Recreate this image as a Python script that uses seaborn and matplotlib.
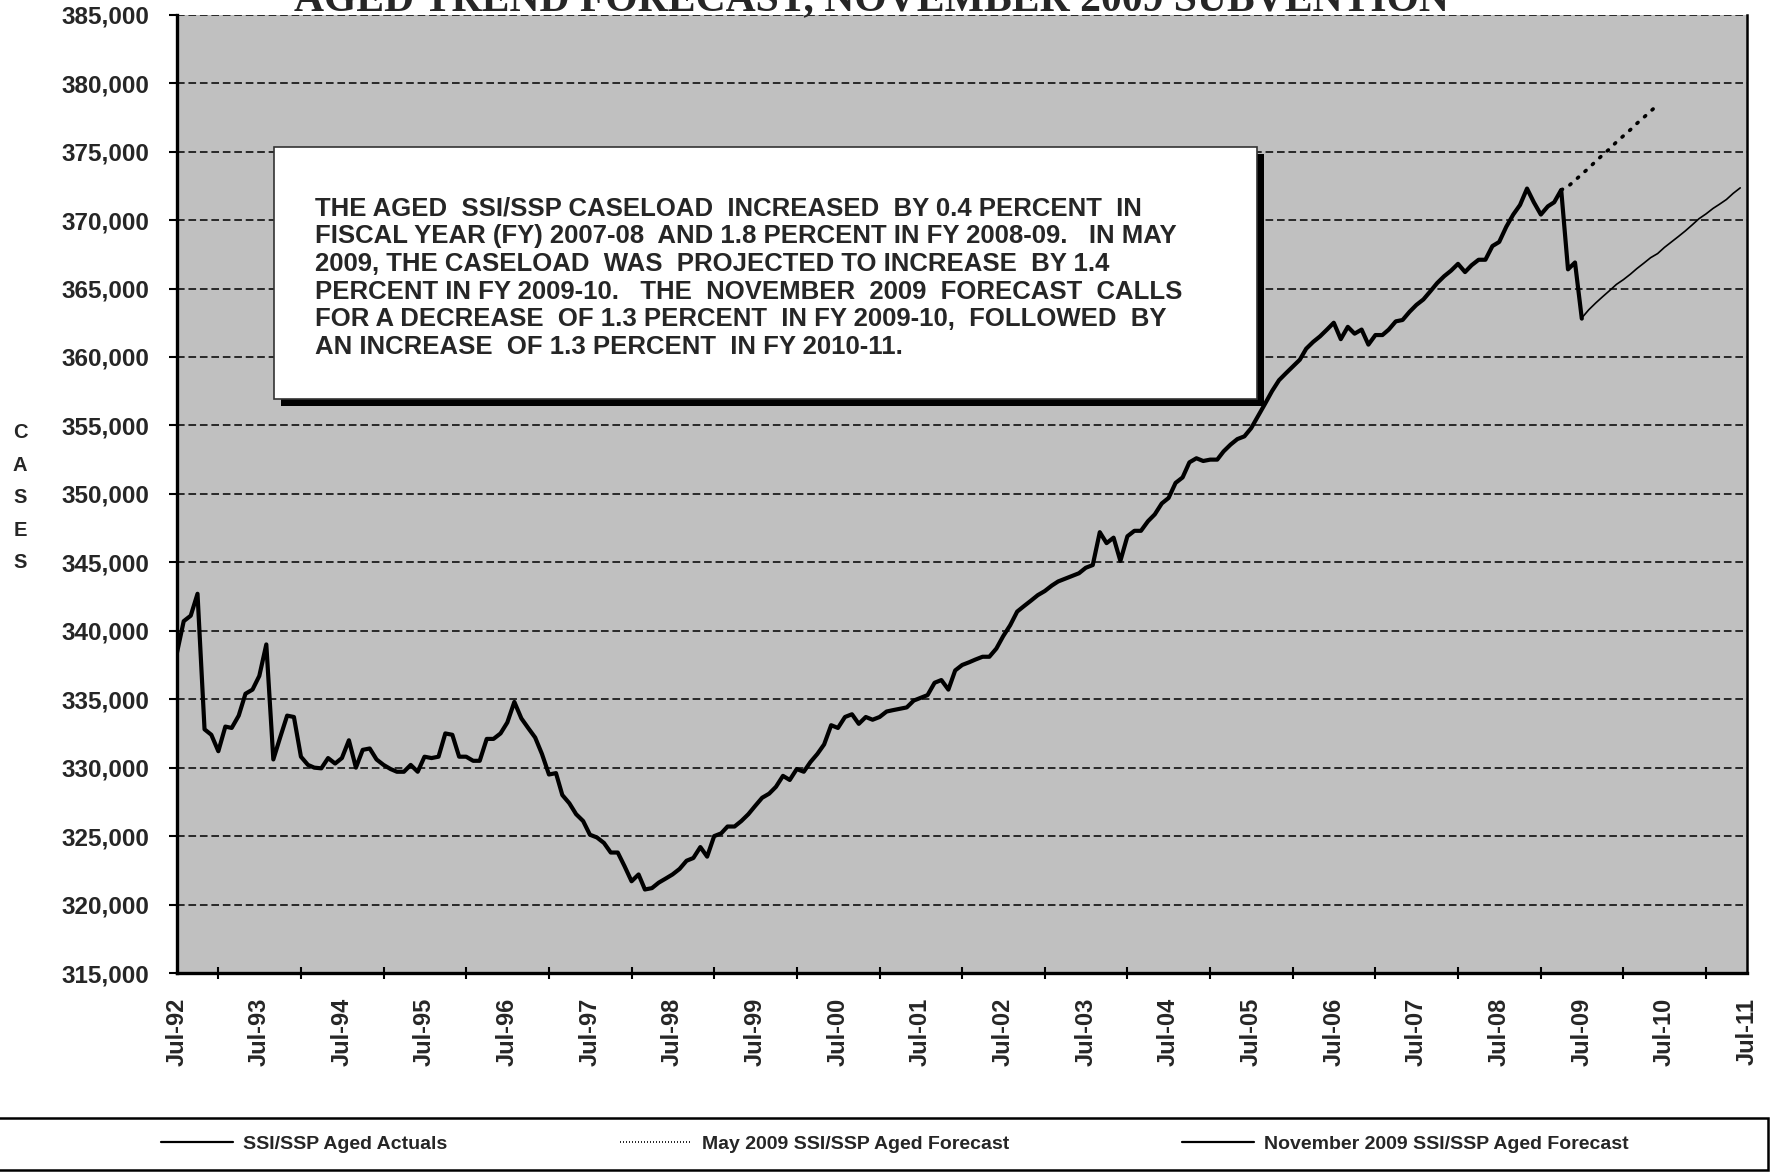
import pandas as pd
import matplotlib
matplotlib.use("Agg")
import matplotlib.pyplot as plt
import matplotlib.dates as mdates
from matplotlib.patches import Rectangle
from matplotlib.lines import Line2D
import seaborn as sns

# monthly caseload, Jul-92 .. Jul-09 (actuals)
actual_cases = [
    338300, 340700, 341100, 342700, 332800, 332400, 331200, 333000, 332900, 333800,
    335400, 335700, 336700, 339000, 330600, 332200, 333800, 333700, 330800, 330200,
    330000, 329950, 330700, 330300, 330700, 332000, 330000, 331300, 331400, 330600,
    330200, 329900, 329700, 329700, 330200, 329700, 330800, 330700, 330800, 332500,
    332400, 330800, 330800, 330500, 330500, 332100, 332100, 332500, 333300, 334800,
    333600, 332900, 332200, 331000, 329500, 329600, 328000, 327400, 326600, 326100,
    325100, 324900, 324500, 323800, 323800, 322800, 321700, 322200, 321100, 321200,
    321600, 321900, 322200, 322600, 323200, 323400, 324200, 323500, 325000, 325200,
    325700, 325700, 326100, 326600, 327200, 327800, 328100, 328600, 329400, 329100,
    329900, 329700, 330400, 331000, 331700, 333100, 332900, 333700, 333900, 333200,
    333700, 333500, 333700, 334100, 334200, 334300, 334400, 334900, 335100, 335300,
    336200, 336400, 335700, 337100, 337500, 337700, 337900, 338100, 338100, 338700,
    339600, 340400, 341400, 341800, 342200, 342600, 342900, 343300, 343600, 343800,
    344000, 344200, 344600, 344800, 347200, 346400, 346800, 345100, 346900, 347300,
    347300, 348000, 348500, 349300, 349700, 350800, 351200, 352300, 352600, 352400,
    352500, 352500, 353100, 353600, 354000, 354200, 354800, 355700, 356600, 357500,
    358300, 358800, 359300, 359800, 360600, 361100, 361500, 362000, 362500, 361300,
    362200, 361700, 362000, 360900, 361600, 361600, 362000, 362600, 362700, 363300,
    363800, 364200, 364800, 365400, 365900, 366300, 366800, 366200, 366700, 367100,
    367100, 368100, 368400, 369500, 370400, 371100, 372300, 371300, 370400, 371000,
    371300, 372200, 366400, 366900, 362800,
]
actual_start = "1992-07-01"

# May 2009 forecast, Apr-09 .. Jun-10
may_cases = [
    372200, 372450, 372900, 373350, 373800, 374300, 374750, 375200, 375700, 376150,
    376600, 377050, 377500, 377950, 378400,
]
may_start = "2009-04-01"

# November 2009 forecast, Jul-09 .. Jun-11
nov_cases = [
    362850, 363450, 363950, 364400, 364850, 365300, 365650, 366050, 366450, 366850,
    367250, 367550, 368000, 368400, 368800, 369200, 369650, 370100, 370450, 370850,
    371150, 371500, 371950, 372350,
]
nov_start = "2009-07-01"

y_ticks = list(range(315000, 385001, 5000))

box_lines = [
    "THE AGED  SSI/SSP CASELOAD  INCREASED  BY 0.4 PERCENT  IN",
    "FISCAL YEAR (FY) 2007-08  AND 1.8 PERCENT IN FY 2008-09.   IN MAY",
    "2009, THE CASELOAD  WAS  PROJECTED TO INCREASE  BY 1.4",
    "PERCENT IN FY 2009-10.   THE  NOVEMBER  2009  FORECAST  CALLS",
    "FOR A DECREASE  OF 1.3 PERCENT  IN FY 2009-10,  FOLLOWED  BY",
    "AN INCREASE  OF 1.3 PERCENT  IN FY 2010-11.",
]
legend_labels = ["SSI/SSP Aged Actuals", "May 2009 SSI/SSP Aged Forecast",
                 "November 2009 SSI/SSP Aged Forecast"]

actual_df = pd.DataFrame({"month": pd.date_range(actual_start, periods=len(actual_cases), freq="MS"),
                          "cases": actual_cases})
may_df = pd.DataFrame({"month": pd.date_range(may_start, periods=len(may_cases), freq="MS"),
                       "cases": may_cases})
nov_df = pd.DataFrame({"month": pd.date_range(nov_start, periods=len(nov_cases), freq="MS"),
                       "cases": nov_cases})

sns.set_theme(style="white")
plt.rcParams["font.family"] = ["Liberation Sans", "DejaVu Sans"]
plt.rcParams["font.weight"] = "bold"

W, H = 1782, 1176
fig = plt.figure(figsize=(W / 100, H / 100), dpi=100)
fig.patch.set_facecolor("white")
ax = fig.add_axes([176.7 / W, 1 - 973 / H, (1747 - 176.7) / W, (973 - 14.7) / H])
ax.set_facecolor("#C0C0C0")

sns.lineplot(data=nov_df, x="month", y="cases", ax=ax, color="black", lw=1.2, zorder=4)
sns.lineplot(data=may_df, x="month", y="cases", ax=ax, color="black", lw=2.6,
             linestyle=(0, (0.4, 2.4)), dash_capstyle="round", zorder=4)
sns.lineplot(data=actual_df, x="month", y="cases", ax=ax, color="black", lw=3.0, zorder=5)

ax.set_xlim(pd.Timestamp("1992-07-01"), pd.Timestamp("2011-07-01"))
ax.set_ylim(315000, 385000)
ax.set_yticks(y_ticks)
ax.yaxis.set_major_formatter(matplotlib.ticker.StrMethodFormatter("{x:,.0f}"))
ax.xaxis.set_major_locator(mdates.MonthLocator(bymonth=7))
ax.xaxis.set_major_formatter(mdates.DateFormatter("%b-%y"))
ax.xaxis.set_minor_locator(mdates.MonthLocator(bymonth=1))

ax.yaxis.grid(True, color="black", linestyle=(0, (5, 2.5)), lw=1.1)
ax.xaxis.grid(False)
ax.set_axisbelow(True)

for s in ["left", "bottom"]:
    ax.spines[s].set_color("black")
    ax.spines[s].set_linewidth(2.4)
ax.spines["right"].set_color("black")
ax.spines["right"].set_linewidth(1.8)
ax.spines["top"].set_visible(False)

ax.tick_params(axis="x", which="major", length=0, pad=18, labelsize=17, rotation=90)
ax.tick_params(axis="x", which="minor", length=8.4, width=1.5, direction="inout", color="black", bottom=True)
ax.tick_params(axis="y", which="major", length=6, width=1.5, direction="out", color="black",
               pad=14, labelsize=17.5, left=True)
for lab in ax.get_xticklabels() + ax.get_yticklabels():
    lab.set_fontweight("bold")

ax.set_xlabel("")
ax.set_ylabel("C\nA\nS\nE\nS", rotation=0, fontsize=14.5, fontweight="bold",
              linespacing=1.89, ha="center", va="center")
ax.yaxis.set_label_coords((20 - 176.7) / 1570.3, 0.496)

# annotation box with shadow
bx, by, bw, bh = 0.0620, 0.5990, 0.6260, 0.2630
ax.add_patch(Rectangle((bx + 0.0045, by - 0.0075), bw, bh, transform=ax.transAxes,
                       facecolor="black", edgecolor="none", zorder=3))
ax.add_patch(Rectangle((bx, by), bw, bh, transform=ax.transAxes,
                       facecolor="white", edgecolor="#333333", lw=1.2, zorder=3))
ax.text(0.0881, 0.7255, "\n".join(box_lines), transform=ax.transAxes, ha="left", va="center",
        fontsize=18.5, fontweight="bold", linespacing=1.2, zorder=4)

fig.text(871 / W, 1 - 10 / H, "AGED TREND FORECAST, NOVEMBER 2009 SUBVENTION",
         ha="center", va="baseline", fontsize=30, fontweight="bold",
         family=["Liberation Serif", "DejaVu Serif"])

# legend frame
fig.patches.append(Rectangle((-0.01, 6 / H), 1768 / W + 0.01, (1170 - 1118) / H,
                             transform=fig.transFigure, facecolor="white",
                             edgecolor="black", lw=1.8))
handles = [Line2D([], [], color="black", lw=1.6),
           Line2D([], [], color="black", lw=1.2, linestyle=(0, (0.6, 1.2))),
           Line2D([], [], color="black", lw=1.6)]
leg = fig.legend(handles, legend_labels, loc="center", bbox_to_anchor=(895 / W, 1 - 1144 / H),
                 ncol=3, frameon=False, prop={"size": 14, "weight": "bold"},
                 handlelength=3.7, handletextpad=0.5, columnspacing=8.9)

fig.savefig("out.png", dpi=100)
